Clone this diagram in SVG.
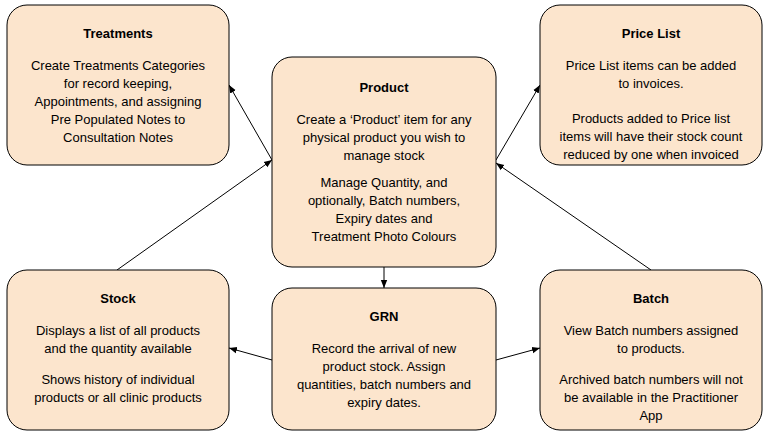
<svg xmlns="http://www.w3.org/2000/svg" width="769" height="436" viewBox="0 0 769 436">
<style>
.n{fill:#fce5cd;stroke:#000;stroke-width:1}
text{font-family:"Liberation Sans",Arial,sans-serif;font-size:13px;text-anchor:middle;fill:#000}
.t{font-weight:bold}
.c{stroke:#000;stroke-width:1;fill:none;marker-end:url(#a)}
</style>
<defs><marker id="a" viewBox="0 0 10 10" refX="10" refY="5" markerWidth="8" markerHeight="8" orient="auto"><path d="M0,1 L10,5 L0,9 z" fill="#000"/></marker></defs>
<rect width="769" height="436" fill="#fff"/>
<g id="connectors">
<path class="c" d="M272,160 L229,85"/>
<path class="c" d="M117,270 L272,160"/>
<path class="c" d="M384,267 L384,288"/>
<path class="c" d="M272,360 L229,348"/>
<path class="c" d="M496,360 L540,348"/>
<path class="c" d="M496,160 L540,85"/>
<path class="c" d="M651,270 L496,163"/>
</g>
<g id="treatments"><rect class="n" x="7" y="5" width="222" height="160" rx="20"/>
<text class="t" x="118" y="38">Treatments</text>
<text x="118" y="70">Create Treatments Categories</text><text x="118" y="88">for record keeping,</text><text x="118" y="106">Appointments, and assigning</text><text x="118" y="124">Pre Populated Notes to</text><text x="118" y="142">Consultation Notes</text></g>
<g id="product"><rect class="n" x="272" y="57" width="224" height="210" rx="20"/>
<text class="t" x="384" y="92">Product</text>
<text x="384" y="124">Create a ‘Product’ item for any</text><text x="384" y="142">physical product you wish to</text><text x="384" y="160">manage stock</text>
<text x="384" y="187">Manage Quantity, and</text><text x="384" y="205">optionally, Batch numbers,</text><text x="384" y="223">Expiry dates and</text><text x="384" y="241">Treatment Photo Colours</text></g>
<g id="pricelist"><rect class="n" x="540" y="5" width="222" height="160" rx="20"/>
<text class="t" x="651" y="38">Price List</text>
<text x="651" y="70">Price List items can be added</text><text x="651" y="88">to invoices.</text>
<text x="651" y="123">Products added to Price list</text><text x="651" y="141">items will have their stock count</text><text x="651" y="159">reduced by one when invoiced</text></g>
<g id="stock"><rect class="n" x="7" y="270" width="222" height="160" rx="20"/>
<text class="t" x="118" y="303">Stock</text>
<text x="118" y="335">Displays a list of all products</text><text x="118" y="353">and the quantity available</text>
<text x="118" y="384">Shows history of individual</text><text x="118" y="402">products or all clinic products</text></g>
<g id="grn"><rect class="n" x="272" y="288" width="224" height="142" rx="20"/>
<text class="t" x="384" y="321">GRN</text>
<text x="384" y="353">Record the arrival of new</text><text x="384" y="371">product stock. Assign</text><text x="384" y="389">quantities, batch numbers and</text><text x="384" y="407">expiry dates.</text></g>
<g id="batch"><rect class="n" x="540" y="270" width="222" height="160" rx="20"/>
<text class="t" x="651" y="303">Batch</text>
<text x="651" y="335">View Batch numbers assigned</text><text x="651" y="353">to products.</text>
<text x="651" y="384">Archived batch numbers will not</text><text x="651" y="402">be available in the Practitioner</text><text x="651" y="420">App</text></g>
</svg>
